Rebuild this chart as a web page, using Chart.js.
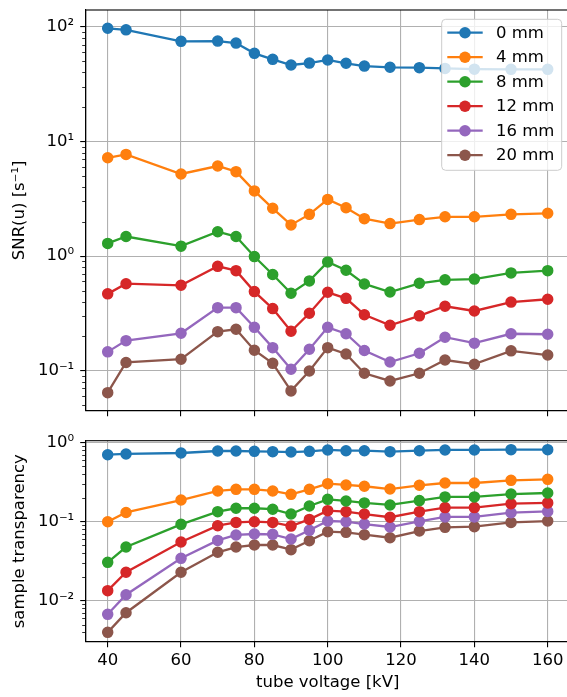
<!DOCTYPE html>
<html lang="en">
<head>
<meta charset="UTF-8">
<title>SNR(u) and sample transparency vs tube voltage</title>
<script src="https://cdn.jsdelivr.net/npm/chart.js"></script>
<style>
  html, body { margin: 0; padding: 0; background: #fff; overflow: hidden; }
  #wrap { position: relative; width: 567px; height: 697px; overflow: hidden; }
  canvas { position: absolute; left: 0; }
  #snrChart { top: 0; width: 572px; height: 420px; }
  #transChart { top: 425px; width: 572px; height: 272px; }
</style>
</head>
<body>
<div id="wrap">
  <canvas id="snrChart" width="572" height="420"></canvas>
  <canvas id="transChart" width="572" height="272"></canvas>
</div>
<script>
// tube voltage [kV]
var voltages = [40, 45, 60, 70, 75, 80, 85, 90, 95, 100, 105, 110, 117, 125, 132, 140, 150, 160];
var xTicks = [40, 60, 80, 100, 120, 140, 160];

var labels = ['0 mm', '4 mm', '8 mm', '12 mm', '16 mm', '20 mm'];
var colors = ['#1f77b4', '#ff7f0e', '#2ca02c', '#d62728', '#9467bd', '#8c564b'];

// SNR(u) [1/s] per filter thickness
var snr0  = [97, 94, 74.6, 75, 72, 58.6, 52, 46.4, 48.2, 51.3, 48, 45.4, 44.3, 44, 43.3, 42.7, 42.5, 42.5];
var snr4  = [7.2, 7.7, 5.2, 6.1, 5.45, 3.7, 2.61, 1.87, 2.31, 3.12, 2.64, 2.12, 1.92, 2.08, 2.2, 2.2, 2.31, 2.36];
var snr8  = [1.29, 1.48, 1.22, 1.63, 1.48, 0.99, 0.69, 0.474, 0.607, 0.889, 0.752, 0.571, 0.486, 0.579, 0.62, 0.63, 0.713, 0.746];
var snr12 = [0.468, 0.574, 0.556, 0.814, 0.746, 0.49, 0.348, 0.221, 0.317, 0.483, 0.428, 0.308, 0.249, 0.301, 0.365, 0.332, 0.397, 0.42];
var snr16 = [0.146, 0.183, 0.212, 0.355, 0.355, 0.239, 0.159, 0.103, 0.154, 0.239, 0.21, 0.15, 0.119, 0.142, 0.196, 0.174, 0.21, 0.208];
var snr20 = [0.0644, 0.118, 0.126, 0.219, 0.23, 0.151, 0.116, 0.0667, 0.0995, 0.159, 0.14, 0.095, 0.0814, 0.095, 0.124, 0.114, 0.149, 0.137];

// sample transparency per filter thickness
var trans0  = [0.705, 0.72, 0.741, 0.785, 0.785, 0.778, 0.77, 0.762, 0.778, 0.809, 0.792, 0.792, 0.77, 0.792, 0.809, 0.809, 0.816, 0.816];
var trans4  = [0.1, 0.131, 0.188, 0.245, 0.257, 0.257, 0.245, 0.222, 0.257, 0.303, 0.292, 0.281, 0.259, 0.289, 0.309, 0.309, 0.334, 0.344];
var trans8  = [0.0306, 0.0478, 0.0927, 0.134, 0.148, 0.148, 0.144, 0.125, 0.158, 0.192, 0.183, 0.173, 0.163, 0.185, 0.206, 0.206, 0.224, 0.231];
var trans12 = [0.0134, 0.0229, 0.0553, 0.089, 0.098, 0.1, 0.098, 0.088, 0.107, 0.138, 0.134, 0.125, 0.114, 0.134, 0.151, 0.151, 0.169, 0.173];
var trans16 = [0.00673, 0.0119, 0.0344, 0.058, 0.068, 0.0699, 0.0692, 0.0604, 0.0778, 0.102, 0.1, 0.0935, 0.0857, 0.101, 0.115, 0.115, 0.13, 0.135];
var trans20 = [0.00398, 0.00705, 0.0229, 0.041, 0.0478, 0.0507, 0.0507, 0.0443, 0.0574, 0.0747, 0.0734, 0.0685, 0.0627, 0.0762, 0.0849, 0.0865, 0.098, 0.102];

var FONT = { family: 'DejaVu Sans', size: 16.5 };
var SUP = { '-': '\u207B', '0': '\u2070', '1': '\u00B9', '2': '\u00B2', '3': '\u00B3' };

function isPow10(v) {
  var e = Math.log10(v);
  return Math.abs(e - Math.round(e)) < 1e-9;
}

function powLabel(v) {
  var e = String(Math.round(Math.log10(v)));
  return '10' + e.split('').map(function (c) { return SUP[c]; }).join('');
}

// 1..9 x 10^n ticks inside [min, max]
function logTicks(min, max) {
  var out = [];
  for (var d = Math.floor(Math.log10(min)); d <= Math.ceil(Math.log10(max)); d++) {
    for (var m = 1; m <= 9; m++) {
      var v = m * Math.pow(10, d);
      if (v >= min && v <= max) out.push({ value: v });
    }
  }
  return out;
}

function makeDatasets(series) {
  return series.map(function (arr, i) {
    return {
      label: labels[i],
      data: voltages.map(function (v, j) { return { x: v, y: arr[j] }; }),
      borderColor: colors[i],
      backgroundColor: colors[i],
      borderWidth: 2.3,
      pointRadius: 5,
      pointBorderWidth: 1.5,
      pointBackgroundColor: colors[i],
      pointBorderColor: colors[i],
      tension: 0
    };
  });
}

// frame + short minor ticks on the log axis
var framePlugin = {
  id: 'frame',
  afterDatasetsDraw: function (chart) {
    var ctx = chart.ctx, a = chart.chartArea, ys = chart.scales.y;
    ctx.save();
    ctx.strokeStyle = '#000';
    ctx.lineWidth = 1.1;
    ctx.strokeRect(a.left, a.top, a.right - a.left, a.bottom - a.top);
    ctx.lineWidth = 0.8;
    ys.ticks.forEach(function (t) {
      if (isPow10(t.value)) return;
      var y = Math.round(ys.getPixelForValue(t.value)) + 0.5;
      ctx.beginPath();
      ctx.moveTo(a.left - 3.5, y);
      ctx.lineTo(a.left, y);
      ctx.stroke();
    });
    ctx.restore();
  }
};

// legend box drawn inside the plot, upper right
var insetLegend = {
  id: 'insetLegend',
  afterDraw: function (chart, args, opts) {
    if (!opts.show) return;
    var ctx = chart.ctx, a = chart.chartArea;
    var sets = chart.data.datasets;
    var w = 120, rowH = 24.5, h = rowH * sets.length + 4;
    var x0 = a.right - 8 - w, y0 = a.top + 9.3, r = 4;
    ctx.save();
    ctx.beginPath();
    ctx.moveTo(x0 + r, y0);
    ctx.arcTo(x0 + w, y0, x0 + w, y0 + h, r);
    ctx.arcTo(x0 + w, y0 + h, x0, y0 + h, r);
    ctx.arcTo(x0, y0 + h, x0, y0, r);
    ctx.arcTo(x0, y0, x0 + w, y0, r);
    ctx.closePath();
    ctx.fillStyle = 'rgba(255,255,255,0.8)';
    ctx.fill();
    ctx.strokeStyle = '#cccccc';
    ctx.lineWidth = 1;
    ctx.stroke();
    ctx.font = FONT.size + 'px ' + FONT.family;
    ctx.textBaseline = 'middle';
    ctx.textAlign = 'left';
    sets.forEach(function (ds, i) {
      var cy = y0 + 13.4 + i * rowH;
      ctx.strokeStyle = ds.borderColor;
      ctx.lineWidth = 2.3;
      ctx.beginPath();
      ctx.moveTo(x0 + 5.6, cy);
      ctx.lineTo(x0 + 41, cy);
      ctx.stroke();
      ctx.fillStyle = ds.borderColor;
      ctx.beginPath();
      ctx.arc(x0 + 23.3, cy, 5.75, 0, Math.PI * 2);
      ctx.fill();
      ctx.fillStyle = '#000';
      ctx.fillText(ds.label, x0 + 54.3, cy + 1);
    });
    ctx.restore();
  }
};

function makeOptions(cfg) {
  return {
    responsive: false,
    animation: false,
    devicePixelRatio: 1,
    // no extra room for point overflow; the right spine falls just past the page edge
    layout: { autoPadding: false, padding: { top: cfg.padTop, right: 2.3, left: 0, bottom: 0 } },
    plugins: {
      legend: { display: false },
      tooltip: { enabled: false },
      insetLegend: { show: cfg.legend }
    },
    scales: {
      x: {
        type: 'linear',
        min: 34,
        max: 166,
        afterBuildTicks: function (s) { s.ticks = xTicks.map(function (v) { return { value: v }; }); },
        afterFit: function (s) {
          s.height = cfg.xHeight;
          s.paddingLeft = 0;
          s.paddingRight = 0;
        },
        grid: { color: '#b0b0b0', lineWidth: 1.1, tickColor: '#000', tickLength: 5.5, drawTicks: true },
        border: { display: true, color: '#000', width: 1.1 },
        ticks: { display: cfg.showX, color: '#000', font: FONT, padding: 3.7, maxRotation: 0, autoSkip: false },
        title: { display: cfg.showX, text: 'tube voltage [kV]', color: '#000', font: FONT, padding: { top: 0, bottom: 4.4 } }
      },
      y: {
        type: 'logarithmic',
        min: cfg.yMin,
        max: cfg.yMax,
        afterBuildTicks: function (s) { s.ticks = logTicks(cfg.yMin, cfg.yMax); },
        afterFit: function (s) {
          s.width = 85.7;
          s.paddingTop = 0;
          s.paddingBottom = 0;
        },
        grid: {
          color: function (c) { return c.tick && isPow10(c.tick.value) ? '#b0b0b0' : 'rgba(0,0,0,0)'; },
          tickColor: function (c) { return c.tick && isPow10(c.tick.value) ? '#000' : 'rgba(0,0,0,0)'; },
          lineWidth: 1.1,
          tickLength: 5.5
        },
        border: { display: true, color: '#000', width: 1.1 },
        ticks: {
          color: '#000',
          font: FONT,
          padding: 6,
          autoSkip: false,
          callback: function (v) { return isPow10(v) ? powLabel(v) : ''; }
        },
        title: { display: true, text: cfg.yTitle, color: '#000', font: FONT, padding: { top: cfg.yTitlePad, bottom: 0 } }
      }
    }
  };
}

new Chart(document.getElementById('snrChart'), {
  type: 'line',
  data: { datasets: makeDatasets([snr0, snr4, snr8, snr12, snr16, snr20]) },
  options: makeOptions({
    padTop: 10, xHeight: 9.3, showX: false, legend: true,
    yMin: 0.0448, yMax: 140, yTitle: 'SNR(u) [s\u207B\u00B9]', yTitlePad: 10.1
  }),
  plugins: [framePlugin, insetLegend]
});

new Chart(document.getElementById('transChart'), {
  type: 'line',
  data: { datasets: makeDatasets([trans0, trans4, trans8, trans12, trans16, trans20]) },
  options: makeOptions({
    padTop: 15.7, xHeight: 55.3, showX: true, legend: false,
    yMin: 0.00303, yMax: 1.06, yTitle: 'sample transparency', yTitlePad: 9.5
  }),
  plugins: [framePlugin, insetLegend]
});
</script>
</body>
</html>
